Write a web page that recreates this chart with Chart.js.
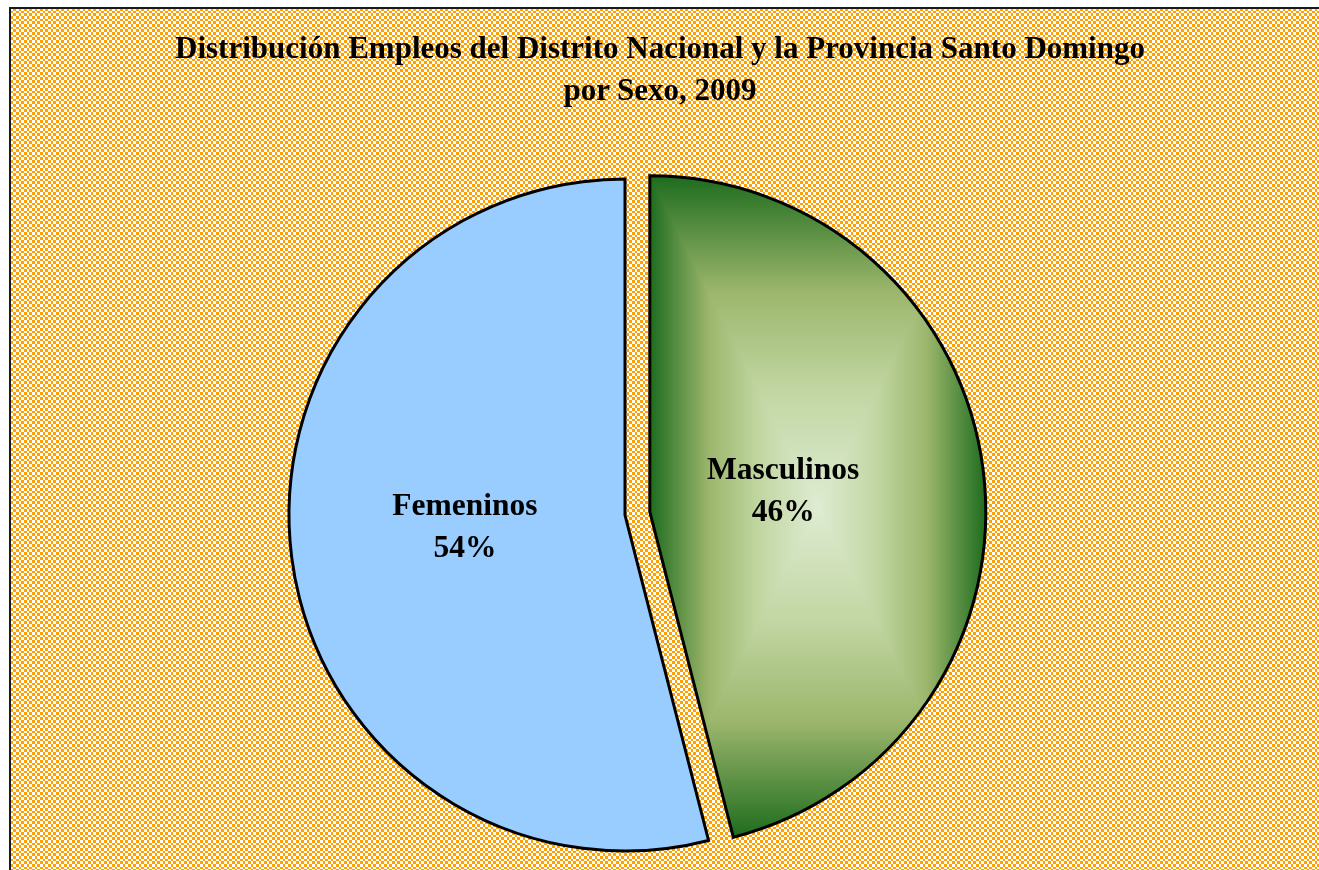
<!DOCTYPE html>
<html>
<head>
<meta charset="utf-8">
<script src="https://cdn.jsdelivr.net/npm/chart.js@4/dist/chart.umd.min.js"></script>
<style>
  html, body { margin: 0; padding: 0; background: #fff; }
  #wrap { position: relative; width: 1319px; height: 870px; overflow: hidden; }
  #title {
    position: absolute; left: 10px; width: 1300px; top: 27px;
    text-align: center; font-family: "Liberation Serif", "Times New Roman", serif;
    font-weight: bold; font-size: 31px; line-height: 42px; color: #000;
  }
</style>
</head>
<body>
<div id="wrap">
  <canvas id="c" width="1319" height="870"></canvas>
  <div id="title">Distribución Empleos del Distrito Nacional y la Provincia Santo Domingo<br>por Sexo, 2009</div>
</div>
<script>
// ---- data ----
const categories = ['Masculinos', 'Femeninos'];
const percentValues = [46, 54];
const percentLabels = ['46%', '54%'];

// ---- styles ----
const explodeIndex = 0;
const explodePx = 25;
const labelRadiusFactor = [0.40, 0.48];
const labelNudgeY = [-3, -7];
const femColor = '#99CCFF';

function totalOf(a) { return a.reduce((s, v) => s + v, 0); }

// background checker pattern
function makeChecker(ctx) {
  const c = document.createElement('canvas');
  c.width = 16; c.height = 16;
  const g = c.getContext('2d');
  const b = [0, 3, 5, 8, 11, 13, 16];
  for (let i = 0; i < b.length - 1; i++) {
    for (let j = 0; j < b.length - 1; j++) {
      g.fillStyle = ((i + j) % 2 === 0) ? '#FFA000' : '#FFFFFF';
      g.fillRect(b[i], b[j], b[i + 1] - b[i], b[j + 1] - b[j]);
    }
  }
  return ctx.createPattern(c, 'repeat');
}

// green rectangular ("from center") gradient fill
let greenCache = null;
function lerpStops(stops, t) {
  for (let k = 0; k < stops.length - 1; k++) {
    const a = stops[k], b = stops[k + 1];
    if (t <= b[0]) {
      const u = (t - a[0]) / (b[0] - a[0]);
      return [0, 1, 2].map(q => a[1][q] + (b[1][q] - a[1][q]) * u);
    }
  }
  return stops[stops.length - 1][1];
}
function greenFill(chart) {
  const meta = chart.getDatasetMeta(0);
  const ctrl = meta.controller;
  const ca = chart.chartArea;
  if (!ca || !ctrl || !ctrl.outerRadius) return '#3a8a3a';
  const cx = (ca.left + ca.right) / 2 + (ctrl.offsetX || 0);
  const cy = (ca.top + ca.bottom) / 2 + (ctrl.offsetY || 0);
  const r = ctrl.outerRadius;
  const key = cx + ',' + cy + ',' + r;
  if (greenCache && greenCache.key === key) return greenCache.pat;
  const tot = totalOf(percentValues);
  let a0 = -Math.PI / 2;
  for (let i = 0; i < explodeIndex; i++) a0 += 2 * Math.PI * percentValues[i] / tot;
  const a1 = a0 + 2 * Math.PI * percentValues[explodeIndex] / tot;
  let xs = [cx], ys = [cy];
  for (let k = 0; k <= 200; k++) {
    const a = a0 + (a1 - a0) * k / 200;
    xs.push(cx + Math.cos(a) * r); ys.push(cy + Math.sin(a) * r);
  }
  const bx0 = Math.min(...xs), bx1 = Math.max(...xs);
  const by0 = Math.min(...ys), by1 = Math.max(...ys);
  const mx = (bx0 + bx1) / 2, my = (by0 + by1) / 2, hw = (bx1 - bx0) / 2, hh = (by1 - by0) / 2;
  const x0 = Math.floor(bx0) - 6, x1 = Math.ceil(bx1) + 6;
  const y0 = Math.floor(by0) - 6, y1 = Math.ceil(by1) + 6;
  const off = document.createElement('canvas');
  off.width = chart.width; off.height = chart.height;
  const g = off.getContext('2d');
  const w = x1 - x0, h = y1 - y0;
  const img = g.createImageData(w, h);
  const stops = [
    [0, [222, 236, 210]],
    [0.35, [193, 214, 162]],
    [0.65, [156, 182, 108]],
    [1, [30, 108, 30]]
  ];
  for (let yy = 0; yy < h; yy++) {
    for (let xx = 0; xx < w; xx++) {
      const px = x0 + xx + 0.5, py = y0 + yy + 0.5;
      const t = Math.min(1, Math.max(Math.abs(px - mx) / hw, Math.abs(py - my) / hh));
      const c = lerpStops(stops, t);
      const idx = (yy * w + xx) * 4;
      img.data[idx] = c[0]; img.data[idx + 1] = c[1]; img.data[idx + 2] = c[2]; img.data[idx + 3] = 255;
    }
  }
  g.putImageData(img, x0, y0);
  const pat = chart.ctx.createPattern(off, 'no-repeat');
  greenCache = { key, pat };
  return pat;
}

function midAngle(arc) {
  const p = arc.getProps(['startAngle', 'endAngle']);
  return (p.startAngle + p.endAngle) / 2;
}

const bgPlugin = {
  id: 'bgFrame',
  beforeDraw(chart) {
    const ctx = chart.ctx;
    ctx.save();
    ctx.fillStyle = '#FFFFFF';
    ctx.fillRect(0, 0, chart.width, chart.height);
    ctx.fillStyle = makeChecker(ctx);
    ctx.fillRect(10, 8, chart.width, chart.height);
    ctx.strokeStyle = '#1a1a1a';
    ctx.lineWidth = 2;
    ctx.strokeRect(10, 8, chart.width + 20, chart.height + 20);
    ctx.restore();
  }
};

// explode a slice by pure translation (keeps its radius)
const explodePlugin = {
  id: 'explode',
  beforeDatasetsDraw(chart) {
    const meta = chart.getDatasetMeta(0);
    const arc = meta.data[explodeIndex];
    if (!arc || arc.__exploded) return;
    const orig = arc.draw;
    arc.draw = function (ctx, area) {
      const m = midAngle(this);
      ctx.save();
      ctx.translate(Math.cos(m) * explodePx, Math.sin(m) * explodePx);
      orig.call(this, ctx, area);
      ctx.restore();
    };
    arc.__exploded = true;
  }
};

const labelPlugin = {
  id: 'sliceLabels',
  afterDatasetsDraw(chart) {
    const ctx = chart.ctx;
    const meta = chart.getDatasetMeta(0);
    ctx.save();
    ctx.font = 'bold 31.5px "Liberation Serif", "Times New Roman", serif';
    ctx.fillStyle = '#000';
    ctx.textAlign = 'center';
    ctx.textBaseline = 'middle';
    meta.data.forEach((arc, i) => {
      const p = arc.getProps(['x', 'y', 'outerRadius']);
      const mid = midAngle(arc);
      const shift = i === explodeIndex ? explodePx : 0;
      const d = shift + labelRadiusFactor[i] * p.outerRadius;
      const lx = p.x + Math.cos(mid) * d;
      const ly = p.y + Math.sin(mid) * d + labelNudgeY[i];
      ctx.fillText(categories[i], lx, ly - 21);
      ctx.fillText(percentLabels[i], lx, ly + 21);
    });
    ctx.restore();
  }
};

new Chart(document.getElementById('c'), {
  type: 'pie',
  data: {
    labels: categories,
    datasets: [{
      data: percentValues,
      backgroundColor: (ctx) => ctx.dataIndex === explodeIndex ? greenFill(ctx.chart) : femColor,
      borderColor: '#000',
      borderWidth: 3,
      borderJoinStyle: 'miter',
      offset: 0,
      hoverOffset: 0
    }]
  },
  options: {
    responsive: false,
    animation: false,
    radius: 336,
    layout: { padding: { left: 0, right: 69, top: 160, bottom: 0 } },
    plugins: {
      legend: { display: false },
      tooltip: { enabled: false },
      title: { display: false }
    },
    events: []
  },
  plugins: [bgPlugin, explodePlugin, labelPlugin]
});
</script>
</body>
</html>
